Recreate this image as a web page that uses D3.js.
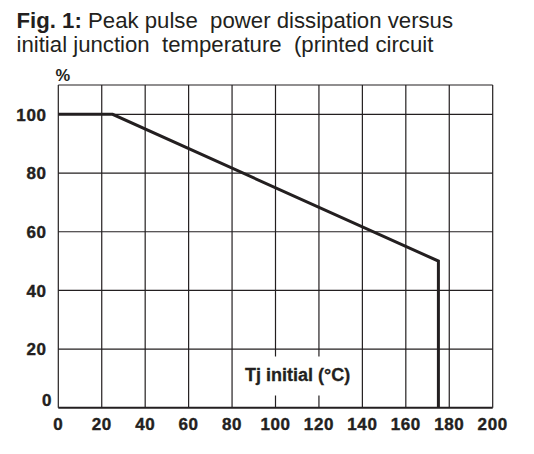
<!DOCTYPE html>
<html>
<head>
<meta charset="utf-8">
<script src="https://cdn.jsdelivr.net/npm/d3@7"></script>
<style>
  body { margin: 0; background: #fff; }
  svg { display: block; font-family: "Liberation Sans", Arial, sans-serif; }
</style>
</head>
<body>
<svg width="534" height="454"></svg>
<script>
// curve points (Tj initial in °C, peak pulse power in %)
const tj = [0, 25, 175, 175];
const power = [100, 100, 50, 0];

// tick labels
const xTicks = [0, 20, 40, 60, 80, 100, 120, 140, 160, 180, 200];
const yTicks = [0, 20, 40, 60, 80, 100];

const svg = d3.select("svg");
const ink = "#231f20";

// plot frame
const plot = {
    left: 58.3,
    right: 492.7,
    top: 85,
    bottom: 407.8
};

const x = d3.scaleLinear().domain([0, 200]).range([plot.left, plot.right]);
const y = d3.scaleLinear().domain([0, 110]).range([plot.bottom, plot.top]);

// title, two lines, first words bold
const title = svg.append("text")
    .attr("fill", ink)
    .attr("font-size", 22.2)
    .style("white-space", "pre");
const l1 = title.append("tspan").attr("x", 16.5).attr("y", 27.5);
l1.append("tspan").attr("font-weight", "bold").text("Fig. 1:");
l1.append("tspan").text(" Peak pulse  power dissipation versus");
title.append("tspan").attr("x", 16.5).attr("y", 51.7)
    .text("initial junction  temperature  (printed circuit");

// vertical grid
svg.append("g")
    .selectAll("line")
    .data(xTicks)
    .enter()
    .append("line")
    .attr("x1", (d) => x(d))
    .attr("x2", (d) => x(d))
    .attr("y1", y(110))
    .attr("y2", y(0))
    .attr("stroke", ink)
    .attr("stroke-width", 1.2);

// horizontal grid
svg.append("g")
    .selectAll("line")
    .data(yTicks.concat([110]))
    .enter()
    .append("line")
    .attr("x1", x(0))
    .attr("x2", x(200))
    .attr("y1", (d) => y(d))
    .attr("y2", (d) => y(d))
    .attr("stroke", ink)
    .attr("stroke-width", (d) => d === 0 ? 2 : 1.2);

// axis title on a white box covering the grid
const box = svg.append("rect").attr("fill", "#fff");
const label = svg.append("text")
    .attr("x", 245)
    .attr("y", 380.5)
    .attr("font-size", 18)
    .attr("font-weight", "bold")
    .attr("fill", ink)
    .attr("stroke", ink)
    .attr("stroke-width", 0.3)
    .style("white-space", "pre")
    .text("Tj initial (°C)");
const bb = label.node().getBBox();
box.attr("x", bb.x - 8)
    .attr("y", 356.5)
    .attr("width", bb.width + 16)
    .attr("height", 39);

// curve
const line = d3.line()
    .x((d, i) => x(tj[i]))
    .y((d) => y(d));
svg.append("path")
    .datum(power)
    .attr("d", line)
    .attr("fill", "none")
    .attr("stroke", ink)
    .attr("stroke-width", 3)
    .attr("stroke-linejoin", "miter");

// x tick labels
svg.append("g")
    .selectAll("text")
    .data(xTicks)
    .enter()
    .append("text")
    .attr("x", (d) => x(d))
    .attr("y", 429.5)
    .attr("text-anchor", "middle")
    .attr("font-size", 17)
    .attr("font-weight", "bold")
    .attr("letter-spacing", 0.6)
    .attr("fill", ink)
    .attr("stroke", ink)
    .attr("stroke-width", 0.4)
    .text((d) => d);

// y tick labels (0 sits a bit higher and further right)
svg.append("g")
    .selectAll("text")
    .data(yTicks)
    .enter()
    .append("text")
    .attr("x", (d) => d === 0 ? 52 : 46.5)
    .attr("y", (d) => d === 0 ? 406 : y(d) + 6.2)
    .attr("text-anchor", "end")
    .attr("font-size", 17)
    .attr("font-weight", "bold")
    .attr("letter-spacing", 0.6)
    .attr("fill", ink)
    .attr("stroke", ink)
    .attr("stroke-width", 0.4)
    .text((d) => d);

// unit
svg.append("text")
    .attr("x", 55.5)
    .attr("y", 81)
    .attr("font-size", 16.5)
    .attr("font-weight", "bold")
    .attr("fill", ink)
    .text("%");
</script>
</body>
</html>
